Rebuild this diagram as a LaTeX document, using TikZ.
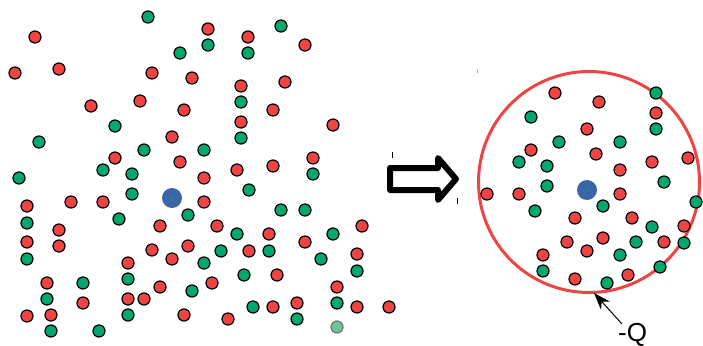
\documentclass[tikz,border=0pt]{standalone}
\usepackage{fontspec}
\setmainfont{Liberation Sans}
\usetikzlibrary{arrows.meta}
\definecolor{dotred}{HTML}{EE4444}
\definecolor{dotgreen}{HTML}{00A86B}
\definecolor{dotlight}{HTML}{6CC596}
\definecolor{chargeblue}{HTML}{3A66A8}
\definecolor{ringred}{HTML}{EE4444}
\tikzset{
  rdot/.style={draw=black,fill=dotred,line width=1.2pt},
  gdot/.style={draw=black,fill=dotgreen,line width=1.2pt},
  ldot/.style={draw=black!55,fill=dotlight,line width=1.2pt},
  bdot/.style={fill=chargeblue},
  ring/.style={draw=ringred,line width=3pt},
  bigarrow/.style={draw=black,line width=6pt,line join=round},
  tick/.style={draw=black,line width=0.6pt},
  pointer/.style={draw=black,line width=1pt,-{Stealth[length=17pt,width=12pt]}},
  qlabel/.style={font=\fontsize{26}{26}\selectfont,inner sep=0pt}
}
\begin{document}
\begin{tikzpicture}[x=1pt,y=-1pt]
\useasboundingbox (0,0) rectangle (703,345);
% left scatter
\foreach \p in {(208,29),(35,37),(248,37),(305,45),(15,73),(59,69),(152,73),(192,78),(241,86),(285,82),(91,106),(140,101),(184,110),(273,110),(241,122),(333,125),(172,137),(115,158),(180,162),(313,158),(237,170),(273,166),(204,178),(27,206),(71,202),(103,202),(204,202),(362,226),(160,226),(217,226),(59,230),(269,234),(27,242),(59,246),(188,246),(152,250),(249,251),(305,242),(172,259),(128,263),(357,254),(277,275),(47,283),(212,283),(160,287),(337,287),(128,299),(144,299),(83,303),(273,307),(297,303),(357,307),(389,307),(27,316),(51,315),(184,315),(228,319)}
  \path[rdot] \p circle[radius=6pt];
\foreach \p in {(148,17),(281,26),(180,53),(208,45),(248,53),(241,102),(115,126),(39,142),(241,138),(144,150),(204,150),(103,170),(132,174),(19,178),(313,174),(249,190),(132,194),(27,223),(119,219),(188,215),(281,210),(305,210),(237,234),(333,234),(221,251),(269,251),(27,259),(204,263),(321,259),(244,275),(128,279),(357,271),(83,283),(192,291),(47,299),(253,307),(337,303),(128,315),(297,319),(51,331),(99,331)}
  \path[gdot] \p circle[radius=6pt];
\path[ldot] (337,327) circle[radius=6pt];
\fill[chargeblue] (172,198) circle[radius=10pt];
\fill[dotgreen] (172,198) circle[radius=1.2pt];
% big arrow
\path[bigarrow] (390,168) -- (438,168) -- (438,158) -- (456,179) -- (438,200) -- (438,190) -- (390,190) -- cycle;
\path[tick] (392,152) -- (392,158);
\path[tick] (457,198) -- (457,204);
\fill[dotred!70] (476.5,69.5) rectangle (477.5,72.5);
% right group
\path[ring] (589,182) circle[radius=110.5pt];
\foreach \p in {(555,93),(599,102),(656,113),(587,129),(531,150),(596,154),(620,170),(652,162),(688,158),(487,194),(519,194),(620,194),(575,218),(632,218),(684,226),(567,242),(603,238),(664,242),(587,251),(543,255),(575,279),(628,275)}
  \path[rdot] \p circle[radius=6pt];
\foreach \p in {(656,93),(531,117),(656,129),(559,142),(620,142),(519,162),(547,166),(664,182),(547,186),(603,206),(535,211),(696,202),(652,227),(636,242),(684,243),(620,255),(543,271),(660,267),(607,283)}
  \path[gdot] \p circle[radius=6pt];
\fill[chargeblue] (587,190) circle[radius=10pt];
\fill[dotgreen] (587,190) circle[radius=1.2pt];
% label and pointer
\node[qlabel,anchor=base west] (q) at (618,341) {-Q};
\coordinate (qtail) at (622,324);
\coordinate (qtip) at (594,293);
\path[pointer] (qtail) -- (qtip);
\end{tikzpicture}
\end{document}
